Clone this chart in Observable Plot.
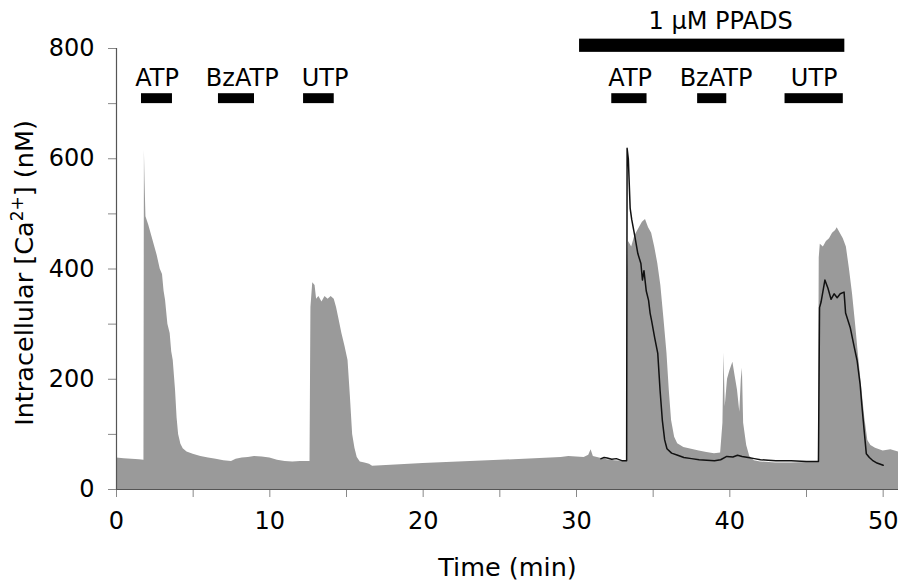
<!DOCTYPE html>
<html>
<head>
<meta charset="utf-8">
<script src="https://cdn.jsdelivr.net/npm/d3@7"></script>
<script src="https://cdn.jsdelivr.net/npm/@observablehq/plot@0.6"></script>
<style>
  html, body { margin: 0; padding: 0; background: #fff; }
  svg { font-family: "DejaVu Sans", Verdana, sans-serif; }
</style>
</head>
<body>
<div id="chart"></div>
<script>
// Control trace (grey filled), time in min, [Ca2+] in nM
const grayT = [0,0.5,1.0,1.5,1.79,1.82,1.86,1.92,2.1,2.3,2.5,2.65,2.85,3.0,3.1,3.2,3.35,3.5,3.6,3.7,3.85,3.95,4.05,4.2,4.35,4.6,5,5.5,6,6.5,7,7.5,7.8,8.2,8.6,9,9.5,10,10.5,11,11.5,12,12.62,12.68,12.8,12.95,13.05,13.2,13.4,13.6,13.8,14.0,14.2,14.35,14.5,14.7,14.9,15.1,15.25,15.4,15.55,15.7,15.9,16.2,16.5,16.7,20,25,29,29.5,30,30.5,30.8,30.95,31.1,31.5,32,32.5,33.28,33.33,33.4,33.6,33.8,34.0,34.3,34.5,34.7,34.9,35.1,35.3,35.5,35.7,35.9,36.05,36.2,36.4,36.6,37,37.5,38,38.5,39,39.4,39.55,39.62,39.7,39.85,40.0,40.2,40.35,40.5,40.65,40.75,40.82,40.9,41.1,41.3,41.6,42,43,44,45,45.78,45.83,45.9,46.1,46.3,46.5,46.7,46.9,47.0,47.2,47.4,47.6,47.8,48.0,48.2,48.4,48.6,48.8,49.0,49.2,49.5,50,50.5,51];
const grayV = [57,56,55,54,53,615,560,495,480,460,440,425,400,390,360,343,300,283,250,234,180,130,100,82,74,68,64,60,57,55,52,51,55,57,58,60,59,57,53,51,50,51,51,330,375,370,345,350,340,350,345,350,345,330,310,283,260,234,170,100,75,58,50,48,46,42,47,53,58,60,59,58,62,72,60,57,54,52,51,400,450,440,460,470,485,490,475,465,440,410,370,310,247,180,125,95,83,76,73,70,67,65,66,120,247,150,200,215,231,205,180,140,200,220,120,80,60,52,50,48,48,49,50,420,445,440,450,455,465,470,475,465,455,440,400,355,300,240,185,130,89,80,75,70,72,68];

// PPADS-treated trace (black line)
const blackT = [31.6,31.8,32,32.3,32.6,33.0,33.27,33.3,33.38,33.5,33.6,33.8,34.0,34.2,34.3,34.4,34.55,34.7,34.8,34.9,35.1,35.3,35.45,35.6,35.75,35.9,36.2,36.6,37,37.5,38,38.5,39,39.4,39.8,40.2,40.5,40.8,41.2,41.6,42,42.5,43,44,45,45.78,45.85,45.95,46.2,46.4,46.6,46.8,47.0,47.2,47.45,47.55,47.85,48.1,48.3,48.5,48.6,48.75,48.9,49.1,49.3,49.6,50];
const blackV = [56,58,57,55,56,52,52,619,600,510,490,460,428,410,380,397,360,343,320,306,275,247,180,125,90,74,66,62,58,56,54,53,52,54,60,59,62,60,58,56,54,53,52,52,51,51,330,340,380,365,345,355,348,355,358,320,294,260,234,190,156,110,65,58,53,48,44];

// Agonist application bars
const stimLabels = ["ATP", "BzATP", "UTP", "ATP", "BzATP", "UTP"];
const stimStart  = [1.63, 6.65, 12.2, 32.3, 37.9, 43.6];
const stimEnd    = [3.65, 9.0, 14.2, 34.6, 39.8, 47.4];
const stimLabelX = [2.65, 8.2, 13.6, 33.5, 39.1, 45.5];

// Antagonist bar
const antagonistLabel = "1 \u03BCM PPADS";
const antagonistStart = 30.2;
const antagonistEnd = 47.5;

const xTicks = [0,5,10,15,20,25,30,35,40,45,50];
const yTicks = [0,100,200,300,400,500,600,700,800];
const xLabel = "Time (min)";
const yLabelParts = ["Intracellular [Ca", "2+", "] (nM)"];

const gray = grayT.map((t, i) => ({t, v: grayV[i]}));
const black = blackT.map((t, i) => ({t, v: blackV[i]}));
const stims = stimLabels.map((label, i) => ({label, x1: stimStart[i], x2: stimEnd[i], lx: stimLabelX[i]}));

const chart = Plot.plot({
  width: 899,
  height: 585,
  marginLeft: 116,
  marginRight: 1,
  marginTop: 48,
  marginBottom: 96,
  style: {fontFamily: "'DejaVu Sans', Verdana, sans-serif", background: "#fff"},
  x: {domain: [0, 51]},
  y: {domain: [0, 800]},
  marks: [
    Plot.areaY(gray, {x: "t", y: "v", fill: "#9a9a9a", curve: "linear"}),
    Plot.line(black, {x: "t", y: "v", stroke: "#111", strokeWidth: 1.5}),
    Plot.rect(stims, {x1: "x1", x2: "x2", y1: 700, y2: 718, fill: "black"}),
    Plot.text(stims, {x: "lx", y: 746, text: "label", fontSize: 24, fill: "black", lineAnchor: "middle"}),
    Plot.rect([0], {x1: antagonistStart, x2: antagonistEnd, y1: 793, y2: 817, fill: "black"}),
    Plot.text([antagonistLabel], {x: 39.4, y: 849, text: d => d, fontSize: 24, fill: "black", lineAnchor: "middle"}),
    Plot.axisX({ticks: xTicks, tickSize: 8, tickPadding: 14, tickFormat: d => d % 10 === 0 ? String(d) : "", fontSize: 24, stroke: "#888", fill: "black", label: null}),
    Plot.axisY({ticks: yTicks, tickSize: 8, tickPadding: 14, tickFormat: d => d % 200 === 0 ? String(d) : "", fontSize: 24, stroke: "#888", fill: "black", label: null}),
    Plot.ruleY([0], {stroke: "#555", strokeWidth: 1.2}),
    Plot.ruleX([0], {y1: 0, y2: 800, stroke: "#555", strokeWidth: 1.2}),
    Plot.text([xLabel], {frameAnchor: "bottom", dy: 78, text: d => d, fontSize: 25.5, fill: "black", lineAnchor: "middle"}),
    Plot.text([yLabelParts.join("")], {frameAnchor: "left", dx: -92, dy: 4, rotate: -90, text: d => d, fontSize: 25.5, fill: "black", lineAnchor: "middle", textAnchor: "middle", className: "ylab"})
  ]
});
document.getElementById("chart").appendChild(chart);

// Render the "2+" as a true superscript
const ytext = chart.querySelector(".ylab text");
if (ytext) {
  const ns = "http://www.w3.org/2000/svg";
  ytext.textContent = "";
  const t1 = document.createElementNS(ns, "tspan"); t1.textContent = yLabelParts[0];
  const t2 = document.createElementNS(ns, "tspan"); t2.textContent = yLabelParts[1];
  t2.setAttribute("font-size", "17"); t2.setAttribute("dy", "-10");
  const t3 = document.createElementNS(ns, "tspan"); t3.textContent = yLabelParts[2];
  t3.setAttribute("dy", "10");
  ytext.append(t1, t2, t3);
}
</script>
</body>
</html>
